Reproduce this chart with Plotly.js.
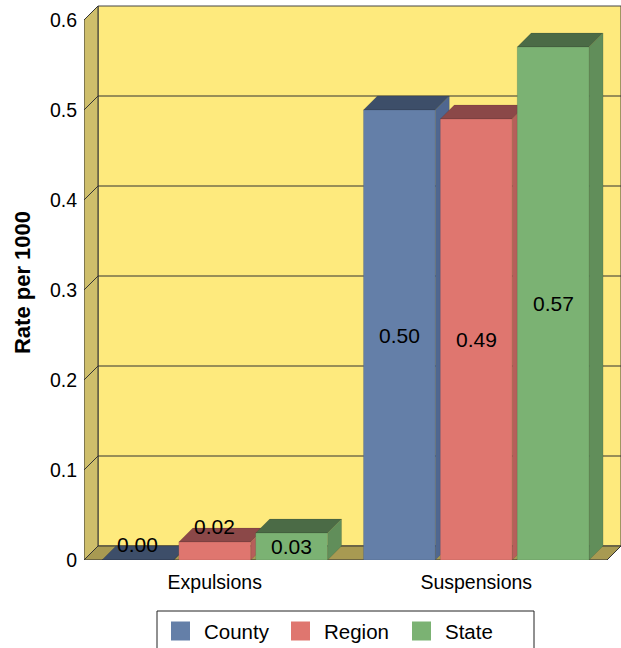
<!DOCTYPE html>
<html><head><meta charset="utf-8">
<script src="https://cdn.plot.ly/plotly-3.0.1.min.js"></script>
<style>body{margin:0;padding:0;background:#fff}#chart{width:621px;height:648px}</style>
</head><body><div id="chart"></div>
<script>
const categories = ["Expulsions", "Suspensions"];
const seriesNames = ["County", "Region", "State"];
const county = [0.00, 0.50];
const region = [0.02, 0.49];
const state = [0.03, 0.57];
const yTickVals = [0, 0.1, 0.2, 0.3, 0.4, 0.5, 0.6];
const yTickText = ["0", "0.1", "0.2", "0.3", "0.4", "0.5", "0.6"];

const frontColors = ["#647fa8", "#df766f", "#7bb273"];
const topColors = ["#3d4e69", "#8b4848", "#4b6b46"];
const sideColors = ["#4f6790", "#b65f5a", "#618e5a"];

const W = 621, H = 648;
const mL = 84, mR = 0, mT = 5, mB = 88;
const plotW = W - mL - mR, plotH = H - mT - mB;
const depthPx = 14;
const xspan = 2 / (1 - depthPx / plotW);
const dx = xspan - 2;
const xmin = -0.5, xmax = xmin + xspan;
const pxPerY = 900;
const ymax = plotH / pxPerY;
const dy = depthPx / pxPerY;

const bargap = 0.118, bargroupgap = 0.065;
const slot = (1 - bargap) / 3;
const bw = slot * (1 - bargroupgap);

const series = [county, region, state];
const xs = categories.map((c, i) => i);

const traces = series.map((vals, k) => ({
  type: "bar",
  name: seriesNames[k],
  x: xs,
  y: vals,
  showlegend: false,
  marker: {color: frontColors[k], line: {color: "rgba(0,0,0,0.2)", width: 0.5}},
  hoverinfo: "none"
}));

const shapes = [];
const annotations = [];
const edge = {color: "#333", width: 1};
// back wall
shapes.push({type: "path", layer: "below", xref: "x", yref: "y",
  path: `M${xmin+dx},${dy} L${xmax},${dy} L${xmax},${0.6+dy} L${xmin+dx},${0.6+dy} Z`,
  fillcolor: "#feea7d", line: {color: "#444", width: 1}});
// left wall
shapes.push({type: "path", layer: "below", xref: "x", yref: "y",
  path: `M${xmin},0 L${xmin+dx},${dy} L${xmin+dx},${0.6+dy} L${xmin},0.6 Z`,
  fillcolor: "#cebe6b", line: edge});
// floor
shapes.push({type: "path", layer: "below", xref: "x", yref: "y",
  path: `M${xmin},0 L${1.5},0 L${1.5+dx},${dy} L${xmin+dx},${dy} Z`,
  fillcolor: "#a89a52", line: edge});
// grid lines on back wall + diagonals on left wall
yTickVals.forEach(v => {
  if (v > 0 && v < 0.6) {
    shapes.push({type: "line", layer: "below", xref: "x", yref: "y",
      x0: xmin+dx, x1: xmax, y0: v+dy, y1: v+dy, line: {color: "#333", width: 1}});
  }
  if (v > 0) {
    shapes.push({type: "line", layer: "below", xref: "x", yref: "y",
      x0: xmin, x1: xmin+dx, y0: v, y1: v+dy, line: {color: "#333", width: 1}});
  }
});
// bar top & side faces, value labels
series.forEach((vals, k) => {
  vals.forEach((v, i) => {
    const c = i + (k - 1) * slot;
    const x0 = c - bw/2, x1 = c + bw/2;
    shapes.push({type: "path", layer: "below", xref: "x", yref: "y",
      path: `M${x0},${v} L${x1},${v} L${x1+dx},${v+dy} L${x0+dx},${v+dy} Z`,
      fillcolor: topColors[k], line: {color: "rgba(0,0,0,0.2)", width: 0.5}});
    shapes.push({type: "path", layer: "below", xref: "x", yref: "y",
      path: `M${x1},0 L${x1},${v} L${x1+dx},${v+dy} L${x1+dx},${dy} Z`,
      fillcolor: sideColors[k], line: {color: "rgba(0,0,0,0.2)", width: 0.5}});
    const inside = v * pxPerY >= 22;
    annotations.push({xref: "x", yref: "y", x: c, y: inside ? v / 2 : v,
      yshift: inside ? 0 : 16, text: v.toFixed(2), showarrow: false,
      xanchor: "center", yanchor: "middle", font: {size: 21, color: "#000"}});
  });
});

// legend (custom, boxed, with large swatches)
const toPX = px => (px - mL) / plotW;
const toPY = py => (H - mB - py) / plotH;
const legendBox = {x0: 157, x1: 534, y0: 611, y1: 660};
const legendItemX = [171, 291, 412];
const swatch = 19, legendTextGap = 12, legendCY = 631;
shapes.push({type: "rect", xref: "paper", yref: "paper",
  x0: toPX(legendBox.x0), x1: toPX(legendBox.x1), y0: toPY(legendBox.y1), y1: toPY(legendBox.y0),
  fillcolor: "#fff", line: {color: "#222", width: 1}});
seriesNames.forEach((n, k) => {
  const lx = legendItemX[k];
  shapes.push({type: "rect", xref: "paper", yref: "paper",
    x0: toPX(lx), x1: toPX(lx + swatch), y0: toPY(legendCY + swatch/2), y1: toPY(legendCY - swatch/2),
    fillcolor: frontColors[k], line: {width: 0}});
  annotations.push({xref: "paper", yref: "paper", x: toPX(lx + swatch + legendTextGap), y: toPY(legendCY),
    xanchor: "left", yanchor: "middle", text: n, showarrow: false, font: {size: 20.5, color: "#000"}});
});

const layout = {
  width: W, height: H,
  margin: {l: mL, r: mR, t: mT, b: mB, pad: 0},
  paper_bgcolor: "#fff", plot_bgcolor: "#fff",
  font: {family: "Liberation Sans, Arial, sans-serif", size: 19, color: "#000"},
  barmode: "group", bargap: bargap, bargroupgap: bargroupgap,
  showlegend: false,
  xaxis: {range: [xmin, xmax], tickvals: xs, ticktext: categories, showgrid: false,
    zeroline: false, showline: false, ticks: "", tickfont: {size: 19.5},
    ticklabelstandoff: 8, fixedrange: true},
  yaxis: {range: [0, ymax], tickvals: yTickVals, ticktext: yTickText, showgrid: false,
    zeroline: false, showline: false, ticks: "", tickfont: {size: 19.5},
    ticklabelstandoff: 6,
    title: {text: "<b>Rate per 1000</b>", font: {size: 22}, standoff: 13}, fixedrange: true},
  shapes: shapes,
  annotations: annotations
};
Plotly.newPlot("chart", traces, layout, {displayModeBar: false, staticPlot: true});
</script></body></html>
